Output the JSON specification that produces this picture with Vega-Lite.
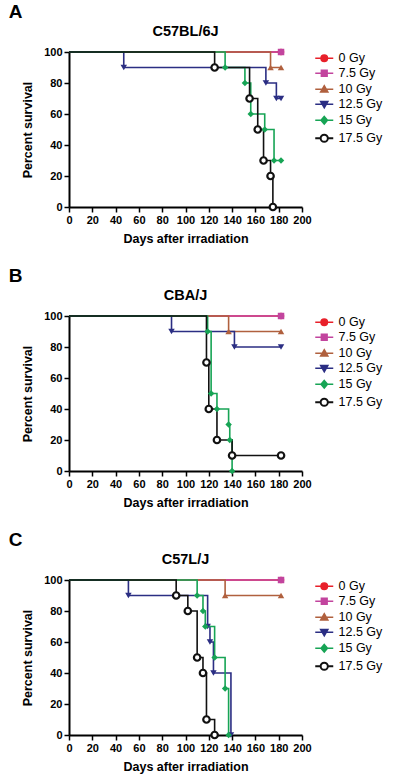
{
  "$schema": "https://vega.github.io/schema/vega-lite/v6.json",
  "padding": {"left": 8, "top": 2, "right": 2, "bottom": 2},
  "spacing": 21,
  "resolve": {"scale": {"color": "independent"}, "legend": {"color": "independent"}},
  "config": {
    "font": "Liberation Sans",
    "view": {"stroke": null},
    "axis": {
      "grid": false,
      "domainColor": "#000", "domainWidth": 2,
      "tickColor": "#000", "tickWidth": 1.5, "tickSize": 5,
      "labelFont": "Liberation Sans", "labelFontWeight": "bold", "labelFontSize": 11, "labelColor": "#000",
      "labelPadding": 2,
      "titleFont": "Liberation Sans", "titleFontWeight": "bold", "titleFontSize": 12.5, "titleColor": "#000"
    },
    "legend": {"labelFont": "Liberation Sans", "labelColor": "#000"},
    "title": {"font": "Liberation Sans", "color": "#000", "fontWeight": "bold"}
  },
  "datasets": {
    "surv": [
      {"strain": "C57BL/6J", "dose": "0 Gy", "day": 0, "survival": 100},
      {"strain": "C57BL/6J", "dose": "0 Gy", "day": 182, "survival": 100},
      {"strain": "C57BL/6J", "dose": "7.5 Gy", "day": 0, "survival": 100},
      {"strain": "C57BL/6J", "dose": "7.5 Gy", "day": 182, "survival": 100},
      {"strain": "C57BL/6J", "dose": "10 Gy", "day": 0, "survival": 100},
      {"strain": "C57BL/6J", "dose": "10 Gy", "day": 173, "survival": 90},
      {"strain": "C57BL/6J", "dose": "10 Gy", "day": 182, "survival": 90},
      {"strain": "C57BL/6J", "dose": "12.5 Gy", "day": 0, "survival": 100},
      {"strain": "C57BL/6J", "dose": "12.5 Gy", "day": 47, "survival": 90},
      {"strain": "C57BL/6J", "dose": "12.5 Gy", "day": 169, "survival": 80},
      {"strain": "C57BL/6J", "dose": "12.5 Gy", "day": 178, "survival": 70},
      {"strain": "C57BL/6J", "dose": "12.5 Gy", "day": 182, "survival": 70},
      {"strain": "C57BL/6J", "dose": "15 Gy", "day": 0, "survival": 100},
      {"strain": "C57BL/6J", "dose": "15 Gy", "day": 134, "survival": 90},
      {"strain": "C57BL/6J", "dose": "15 Gy", "day": 151, "survival": 80},
      {"strain": "C57BL/6J", "dose": "15 Gy", "day": 156, "survival": 60},
      {"strain": "C57BL/6J", "dose": "15 Gy", "day": 168, "survival": 50},
      {"strain": "C57BL/6J", "dose": "15 Gy", "day": 176, "survival": 30},
      {"strain": "C57BL/6J", "dose": "15 Gy", "day": 182, "survival": 30},
      {"strain": "C57BL/6J", "dose": "17.5 Gy", "day": 0, "survival": 100},
      {"strain": "C57BL/6J", "dose": "17.5 Gy", "day": 125, "survival": 90},
      {"strain": "C57BL/6J", "dose": "17.5 Gy", "day": 155, "survival": 70},
      {"strain": "C57BL/6J", "dose": "17.5 Gy", "day": 162, "survival": 50},
      {"strain": "C57BL/6J", "dose": "17.5 Gy", "day": 167, "survival": 30},
      {"strain": "C57BL/6J", "dose": "17.5 Gy", "day": 173, "survival": 20},
      {"strain": "C57BL/6J", "dose": "17.5 Gy", "day": 175, "survival": 0},

      {"strain": "CBA/J", "dose": "0 Gy", "day": 0, "survival": 100},
      {"strain": "CBA/J", "dose": "0 Gy", "day": 182, "survival": 100},
      {"strain": "CBA/J", "dose": "7.5 Gy", "day": 0, "survival": 100},
      {"strain": "CBA/J", "dose": "7.5 Gy", "day": 182, "survival": 100},
      {"strain": "CBA/J", "dose": "10 Gy", "day": 0, "survival": 100},
      {"strain": "CBA/J", "dose": "10 Gy", "day": 137, "survival": 90},
      {"strain": "CBA/J", "dose": "10 Gy", "day": 182, "survival": 90},
      {"strain": "CBA/J", "dose": "12.5 Gy", "day": 0, "survival": 100},
      {"strain": "CBA/J", "dose": "12.5 Gy", "day": 88, "survival": 90},
      {"strain": "CBA/J", "dose": "12.5 Gy", "day": 142, "survival": 80},
      {"strain": "CBA/J", "dose": "12.5 Gy", "day": 182, "survival": 80},
      {"strain": "CBA/J", "dose": "15 Gy", "day": 0, "survival": 100},
      {"strain": "CBA/J", "dose": "15 Gy", "day": 119, "survival": 90},
      {"strain": "CBA/J", "dose": "15 Gy", "day": 122, "survival": 50},
      {"strain": "CBA/J", "dose": "15 Gy", "day": 127, "survival": 40},
      {"strain": "CBA/J", "dose": "15 Gy", "day": 137, "survival": 30},
      {"strain": "CBA/J", "dose": "15 Gy", "day": 138, "survival": 20},
      {"strain": "CBA/J", "dose": "15 Gy", "day": 140, "survival": 0},
      {"strain": "CBA/J", "dose": "17.5 Gy", "day": 0, "survival": 100},
      {"strain": "CBA/J", "dose": "17.5 Gy", "day": 118, "survival": 70},
      {"strain": "CBA/J", "dose": "17.5 Gy", "day": 120, "survival": 40},
      {"strain": "CBA/J", "dose": "17.5 Gy", "day": 127, "survival": 20},
      {"strain": "CBA/J", "dose": "17.5 Gy", "day": 140, "survival": 10},
      {"strain": "CBA/J", "dose": "17.5 Gy", "day": 182, "survival": 10},

      {"strain": "C57L/J", "dose": "0 Gy", "day": 0, "survival": 100},
      {"strain": "C57L/J", "dose": "0 Gy", "day": 182, "survival": 100},
      {"strain": "C57L/J", "dose": "7.5 Gy", "day": 0, "survival": 100},
      {"strain": "C57L/J", "dose": "7.5 Gy", "day": 182, "survival": 100},
      {"strain": "C57L/J", "dose": "10 Gy", "day": 0, "survival": 100},
      {"strain": "C57L/J", "dose": "10 Gy", "day": 134, "survival": 90},
      {"strain": "C57L/J", "dose": "10 Gy", "day": 182, "survival": 90},
      {"strain": "C57L/J", "dose": "12.5 Gy", "day": 0, "survival": 100},
      {"strain": "C57L/J", "dose": "12.5 Gy", "day": 51, "survival": 90},
      {"strain": "C57L/J", "dose": "12.5 Gy", "day": 119, "survival": 70},
      {"strain": "C57L/J", "dose": "12.5 Gy", "day": 121, "survival": 60},
      {"strain": "C57L/J", "dose": "12.5 Gy", "day": 124, "survival": 40},
      {"strain": "C57L/J", "dose": "12.5 Gy", "day": 139, "survival": 0},
      {"strain": "C57L/J", "dose": "15 Gy", "day": 0, "survival": 100},
      {"strain": "C57L/J", "dose": "15 Gy", "day": 110, "survival": 90},
      {"strain": "C57L/J", "dose": "15 Gy", "day": 115, "survival": 80},
      {"strain": "C57L/J", "dose": "15 Gy", "day": 117, "survival": 70},
      {"strain": "C57L/J", "dose": "15 Gy", "day": 125, "survival": 50},
      {"strain": "C57L/J", "dose": "15 Gy", "day": 134, "survival": 30},
      {"strain": "C57L/J", "dose": "15 Gy", "day": 137, "survival": 0},
      {"strain": "C57L/J", "dose": "17.5 Gy", "day": 0, "survival": 100},
      {"strain": "C57L/J", "dose": "17.5 Gy", "day": 92, "survival": 90},
      {"strain": "C57L/J", "dose": "17.5 Gy", "day": 102, "survival": 80},
      {"strain": "C57L/J", "dose": "17.5 Gy", "day": 110, "survival": 50},
      {"strain": "C57L/J", "dose": "17.5 Gy", "day": 115, "survival": 40},
      {"strain": "C57L/J", "dose": "17.5 Gy", "day": 118, "survival": 10},
      {"strain": "C57L/J", "dose": "17.5 Gy", "day": 125, "survival": 0}
    ]
  },
  "vconcat": [
    {
      "title": {"text": "A", "anchor": "start", "dx": -13, "offset": 2, "fontSize": 19},
      "vconcat": [
        {
          "title": {"text": "C57BL/6J", "anchor": "middle", "frame": "group", "fontSize": 14.5, "offset": 7},
          "width": 233, "height": 155,
          "data": {"name": "surv"},
          "transform": [{"filter": "datum.strain === 'C57BL/6J'"}],
          "encoding": {
            "x": {"field": "day", "type": "quantitative", "scale": {"domain": [0, 200], "nice": false}, "axis": {"values": [0, 20, 40, 60, 80, 100, 120, 140, 160, 180, 200], "title": "Days after irradiation", "labelFlush": false, "titlePadding": 7}},
            "y": {"field": "survival", "type": "quantitative", "scale": {"domain": [0, 100], "nice": false}, "axis": {"values": [0, 20, 40, 60, 80, 100], "title": "Percent survival", "titlePadding": 9}}
          },
          "layer": [
            {
              "mark": {"type": "line", "interpolate": "step-after", "strokeWidth": 1.6},
              "encoding": {
                "color": {"field": "dose", "type": "nominal",
                  "scale": {"domain": ["0 Gy", "7.5 Gy", "10 Gy", "12.5 Gy", "15 Gy", "17.5 Gy"], "range": ["#e8202a", "#c2449e", "#b0603e", "#2b2e83", "#17a455", "#111111"]},
                  "legend": {"title": null, "orient": "right", "offset": 6, "padding": 0, "symbolSize": 324, "rowPadding": 2, "labelFontSize": 12.5, "labelOffset": 8, "symbolStrokeWidth": 1.5,
                    "encode": {"symbols": {"update": {
                      "shape": {"signal": "datum.value === '0 Gy' ? 'M-1,0H1M-0.36,0A0.36,0.36,0,1,0,0.36,0A0.36,0.36,0,1,0,-0.36,0Z' : datum.value === '7.5 Gy' ? 'M-1,0H1M-0.32,-0.32H0.32V0.32H-0.32Z' : datum.value === '10 Gy' ? 'M-1,0H1M0,-0.4L0.4,0.3H-0.4Z' : datum.value === '12.5 Gy' ? 'M-1,0H1M0,0.4L0.4,-0.3H-0.4Z' : datum.value === '15 Gy' ? 'M-1,0H1M0,-0.42L0.36,0L0,0.42L-0.36,0Z' : 'M-1,0H-0.4M0.4,0H1M-0.4,0A0.4,0.4,0,1,0,0.4,0A0.4,0.4,0,1,0,-0.4,0Z'"},
                      "fill": {"signal": "datum.value === '0 Gy' ? '#e8202a' : datum.value === '7.5 Gy' ? '#c2449e' : datum.value === '10 Gy' ? '#b0603e' : datum.value === '12.5 Gy' ? '#2b2e83' : datum.value === '15 Gy' ? '#17a455' : '#ffffff'"},
                      "stroke": {"signal": "datum.value === '0 Gy' ? '#e8202a' : datum.value === '7.5 Gy' ? '#c2449e' : datum.value === '10 Gy' ? '#b0603e' : datum.value === '12.5 Gy' ? '#2b2e83' : datum.value === '15 Gy' ? '#17a455' : '#111111'"},
                      "strokeWidth": {"signal": "datum.value === '17.5 Gy' ? 2 : 1.5"},
                      "opacity": {"value": 1}
                    }}}
                  }
                }
              }
            },
            {
              "transform": [{"filter": "datum.day > 0 && datum.dose !== '17.5 Gy'"}],
              "mark": {"type": "point", "filled": true, "size": 42, "strokeWidth": 1, "opacity": 1},
              "encoding": {
                "shape": {"field": "dose", "type": "nominal", "scale": {"domain": ["0 Gy", "7.5 Gy", "10 Gy", "12.5 Gy", "15 Gy", "17.5 Gy"], "range": ["circle", "square", "triangle-up", "triangle-down", "diamond", "circle"]}, "legend": null},
                "fill": {"field": "dose", "type": "nominal", "scale": {"domain": ["0 Gy", "7.5 Gy", "10 Gy", "12.5 Gy", "15 Gy", "17.5 Gy"], "range": ["#e8202a", "#c2449e", "#b0603e", "#2b2e83", "#17a455", "#111111"]}, "legend": null}
              }
            },
            {
              "transform": [{"filter": "datum.day > 0 && datum.dose === '17.5 Gy'"}],
              "mark": {"type": "point", "shape": "circle", "filled": false, "fill": "#ffffff", "stroke": "#111111", "size": 42, "strokeWidth": 2.2, "opacity": 1},
              "encoding": {}
            }
          ]
        }
      ]
    },
    {
      "title": {"text": "B", "anchor": "start", "dx": -13, "offset": 2, "fontSize": 19},
      "vconcat": [
        {
          "title": {"text": "CBA/J", "anchor": "middle", "frame": "group", "fontSize": 14.5, "offset": 7},
          "width": 233, "height": 155,
          "data": {"name": "surv"},
          "transform": [{"filter": "datum.strain === 'CBA/J'"}],
          "encoding": {
            "x": {"field": "day", "type": "quantitative", "scale": {"domain": [0, 200], "nice": false}, "axis": {"values": [0, 20, 40, 60, 80, 100, 120, 140, 160, 180, 200], "title": "Days after irradiation", "labelFlush": false, "titlePadding": 7}},
            "y": {"field": "survival", "type": "quantitative", "scale": {"domain": [0, 100], "nice": false}, "axis": {"values": [0, 20, 40, 60, 80, 100], "title": "Percent survival", "titlePadding": 9}}
          },
          "layer": [
            {
              "mark": {"type": "line", "interpolate": "step-after", "strokeWidth": 1.6},
              "encoding": {
                "color": {"field": "dose", "type": "nominal",
                  "scale": {"domain": ["0 Gy", "7.5 Gy", "10 Gy", "12.5 Gy", "15 Gy", "17.5 Gy"], "range": ["#e8202a", "#c2449e", "#b0603e", "#2b2e83", "#17a455", "#111111"]},
                  "legend": {"title": null, "orient": "right", "offset": 6, "padding": 0, "symbolSize": 324, "rowPadding": 2, "labelFontSize": 12.5, "labelOffset": 8, "symbolStrokeWidth": 1.5,
                    "encode": {"symbols": {"update": {
                      "shape": {"signal": "datum.value === '0 Gy' ? 'M-1,0H1M-0.36,0A0.36,0.36,0,1,0,0.36,0A0.36,0.36,0,1,0,-0.36,0Z' : datum.value === '7.5 Gy' ? 'M-1,0H1M-0.32,-0.32H0.32V0.32H-0.32Z' : datum.value === '10 Gy' ? 'M-1,0H1M0,-0.4L0.4,0.3H-0.4Z' : datum.value === '12.5 Gy' ? 'M-1,0H1M0,0.4L0.4,-0.3H-0.4Z' : datum.value === '15 Gy' ? 'M-1,0H1M0,-0.42L0.36,0L0,0.42L-0.36,0Z' : 'M-1,0H-0.4M0.4,0H1M-0.4,0A0.4,0.4,0,1,0,0.4,0A0.4,0.4,0,1,0,-0.4,0Z'"},
                      "fill": {"signal": "datum.value === '0 Gy' ? '#e8202a' : datum.value === '7.5 Gy' ? '#c2449e' : datum.value === '10 Gy' ? '#b0603e' : datum.value === '12.5 Gy' ? '#2b2e83' : datum.value === '15 Gy' ? '#17a455' : '#ffffff'"},
                      "stroke": {"signal": "datum.value === '0 Gy' ? '#e8202a' : datum.value === '7.5 Gy' ? '#c2449e' : datum.value === '10 Gy' ? '#b0603e' : datum.value === '12.5 Gy' ? '#2b2e83' : datum.value === '15 Gy' ? '#17a455' : '#111111'"},
                      "strokeWidth": {"signal": "datum.value === '17.5 Gy' ? 2 : 1.5"},
                      "opacity": {"value": 1}
                    }}}
                  }
                }
              }
            },
            {
              "transform": [{"filter": "datum.day > 0 && datum.dose !== '17.5 Gy'"}],
              "mark": {"type": "point", "filled": true, "size": 42, "strokeWidth": 1, "opacity": 1},
              "encoding": {
                "shape": {"field": "dose", "type": "nominal", "scale": {"domain": ["0 Gy", "7.5 Gy", "10 Gy", "12.5 Gy", "15 Gy", "17.5 Gy"], "range": ["circle", "square", "triangle-up", "triangle-down", "diamond", "circle"]}, "legend": null},
                "fill": {"field": "dose", "type": "nominal", "scale": {"domain": ["0 Gy", "7.5 Gy", "10 Gy", "12.5 Gy", "15 Gy", "17.5 Gy"], "range": ["#e8202a", "#c2449e", "#b0603e", "#2b2e83", "#17a455", "#111111"]}, "legend": null}
              }
            },
            {
              "transform": [{"filter": "datum.day > 0 && datum.dose === '17.5 Gy'"}],
              "mark": {"type": "point", "shape": "circle", "filled": false, "fill": "#ffffff", "stroke": "#111111", "size": 42, "strokeWidth": 2.2, "opacity": 1},
              "encoding": {}
            }
          ]
        }
      ]
    },
    {
      "title": {"text": "C", "anchor": "start", "dx": -13, "offset": 2, "fontSize": 19},
      "vconcat": [
        {
          "title": {"text": "C57L/J", "anchor": "middle", "frame": "group", "fontSize": 14.5, "offset": 7},
          "width": 233, "height": 155,
          "data": {"name": "surv"},
          "transform": [{"filter": "datum.strain === 'C57L/J'"}],
          "encoding": {
            "x": {"field": "day", "type": "quantitative", "scale": {"domain": [0, 200], "nice": false}, "axis": {"values": [0, 20, 40, 60, 80, 100, 120, 140, 160, 180, 200], "title": "Days after irradiation", "labelFlush": false, "titlePadding": 7}},
            "y": {"field": "survival", "type": "quantitative", "scale": {"domain": [0, 100], "nice": false}, "axis": {"values": [0, 20, 40, 60, 80, 100], "title": "Percent survival", "titlePadding": 9}}
          },
          "layer": [
            {
              "mark": {"type": "line", "interpolate": "step-after", "strokeWidth": 1.6},
              "encoding": {
                "color": {"field": "dose", "type": "nominal",
                  "scale": {"domain": ["0 Gy", "7.5 Gy", "10 Gy", "12.5 Gy", "15 Gy", "17.5 Gy"], "range": ["#e8202a", "#c2449e", "#b0603e", "#2b2e83", "#17a455", "#111111"]},
                  "legend": {"title": null, "orient": "right", "offset": 6, "padding": 0, "symbolSize": 324, "rowPadding": 2, "labelFontSize": 12.5, "labelOffset": 8, "symbolStrokeWidth": 1.5,
                    "encode": {"symbols": {"update": {
                      "shape": {"signal": "datum.value === '0 Gy' ? 'M-1,0H1M-0.36,0A0.36,0.36,0,1,0,0.36,0A0.36,0.36,0,1,0,-0.36,0Z' : datum.value === '7.5 Gy' ? 'M-1,0H1M-0.32,-0.32H0.32V0.32H-0.32Z' : datum.value === '10 Gy' ? 'M-1,0H1M0,-0.4L0.4,0.3H-0.4Z' : datum.value === '12.5 Gy' ? 'M-1,0H1M0,0.4L0.4,-0.3H-0.4Z' : datum.value === '15 Gy' ? 'M-1,0H1M0,-0.42L0.36,0L0,0.42L-0.36,0Z' : 'M-1,0H-0.4M0.4,0H1M-0.4,0A0.4,0.4,0,1,0,0.4,0A0.4,0.4,0,1,0,-0.4,0Z'"},
                      "fill": {"signal": "datum.value === '0 Gy' ? '#e8202a' : datum.value === '7.5 Gy' ? '#c2449e' : datum.value === '10 Gy' ? '#b0603e' : datum.value === '12.5 Gy' ? '#2b2e83' : datum.value === '15 Gy' ? '#17a455' : '#ffffff'"},
                      "stroke": {"signal": "datum.value === '0 Gy' ? '#e8202a' : datum.value === '7.5 Gy' ? '#c2449e' : datum.value === '10 Gy' ? '#b0603e' : datum.value === '12.5 Gy' ? '#2b2e83' : datum.value === '15 Gy' ? '#17a455' : '#111111'"},
                      "strokeWidth": {"signal": "datum.value === '17.5 Gy' ? 2 : 1.5"},
                      "opacity": {"value": 1}
                    }}}
                  }
                }
              }
            },
            {
              "transform": [{"filter": "datum.day > 0 && datum.dose !== '17.5 Gy'"}],
              "mark": {"type": "point", "filled": true, "size": 42, "strokeWidth": 1, "opacity": 1},
              "encoding": {
                "shape": {"field": "dose", "type": "nominal", "scale": {"domain": ["0 Gy", "7.5 Gy", "10 Gy", "12.5 Gy", "15 Gy", "17.5 Gy"], "range": ["circle", "square", "triangle-up", "triangle-down", "diamond", "circle"]}, "legend": null},
                "fill": {"field": "dose", "type": "nominal", "scale": {"domain": ["0 Gy", "7.5 Gy", "10 Gy", "12.5 Gy", "15 Gy", "17.5 Gy"], "range": ["#e8202a", "#c2449e", "#b0603e", "#2b2e83", "#17a455", "#111111"]}, "legend": null}
              }
            },
            {
              "transform": [{"filter": "datum.day > 0 && datum.dose === '17.5 Gy'"}],
              "mark": {"type": "point", "shape": "circle", "filled": false, "fill": "#ffffff", "stroke": "#111111", "size": 42, "strokeWidth": 2.2, "opacity": 1},
              "encoding": {}
            }
          ]
        }
      ]
    }
  ]
}
